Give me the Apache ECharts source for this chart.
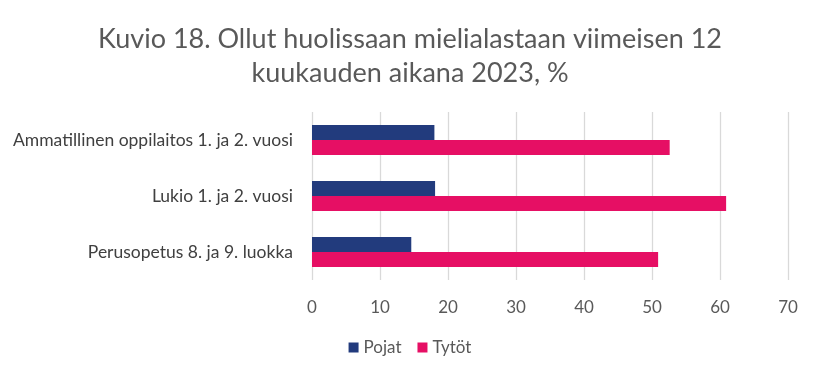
<!DOCTYPE html>
<html><head><meta charset="utf-8">
<script src="https://cdn.jsdelivr.net/npm/echarts@6/dist/echarts.min.js"></script>
<style>html,body{margin:0;padding:0;background:#fff}#c{width:820px;height:378px}</style>
</head><body><div id="c"></div>
<script>
const categories = ["Ammatillinen oppilaitos 1. ja 2. vuosi", "Lukio 1. ja 2. vuosi", "Perusopetus 8. ja 9. luokka"];
const pojat = [18.0, 18.1, 14.6];
const tytot = [52.6, 60.9, 50.9];
const xTicks = [0, 10, 20, 30, 40, 50, 60, 70];
const titleText = "Kuvio 18. Ollut huolissaan mielialastaan viimeisen 12\nkuukauden aikana 2023, %";

const chart = echarts.init(document.getElementById('c'), null, {renderer: 'canvas'});
const font = "Lato, 'Open Sans', sans-serif";
chart.setOption({
  animation: false,
  title: {
    text: titleText, left: 'center', top: 17,
    textStyle: {fontFamily: font, fontSize: 27, fontWeight: 'normal', color: '#595959', lineHeight: 34}
  },
  legend: {
    bottom: 17, left: 'center', itemWidth: 10, itemHeight: 10, itemGap: 16,
    icon: 'rect',
    textStyle: {fontFamily: font, fontSize: 17, color: '#595959'},
    data: ['Pojat', 'Tytöt']
  },
  grid: {left: 312, right: 32, top: 112, bottom: 98, containLabel: false},
  xAxis: {
    type: 'value', min: xTicks[0], max: xTicks[xTicks.length - 1], interval: 10,
    axisLine: {show: false}, axisTick: {show: false},
    splitLine: {lineStyle: {color: '#d9d9d9', width: 1.3}},
    axisLabel: {fontFamily: font, fontSize: 17, color: '#595959', margin: 19}
  },
  yAxis: {
    type: 'category', data: categories, inverse: true,
    axisLine: {show: false}, axisTick: {show: false},
    axisLabel: {fontFamily: font, fontSize: 17.5, color: '#404040', margin: 19}
  },
  series: [
    {name: 'Pojat', type: 'bar', data: pojat, barWidth: 15, barGap: '0%', itemStyle: {color: '#223b7d'}},
    {name: 'Tytöt', type: 'bar', data: tytot, barWidth: 15, barGap: '0%', itemStyle: {color: '#e60f64'}}
  ]
});
</script></body></html>
